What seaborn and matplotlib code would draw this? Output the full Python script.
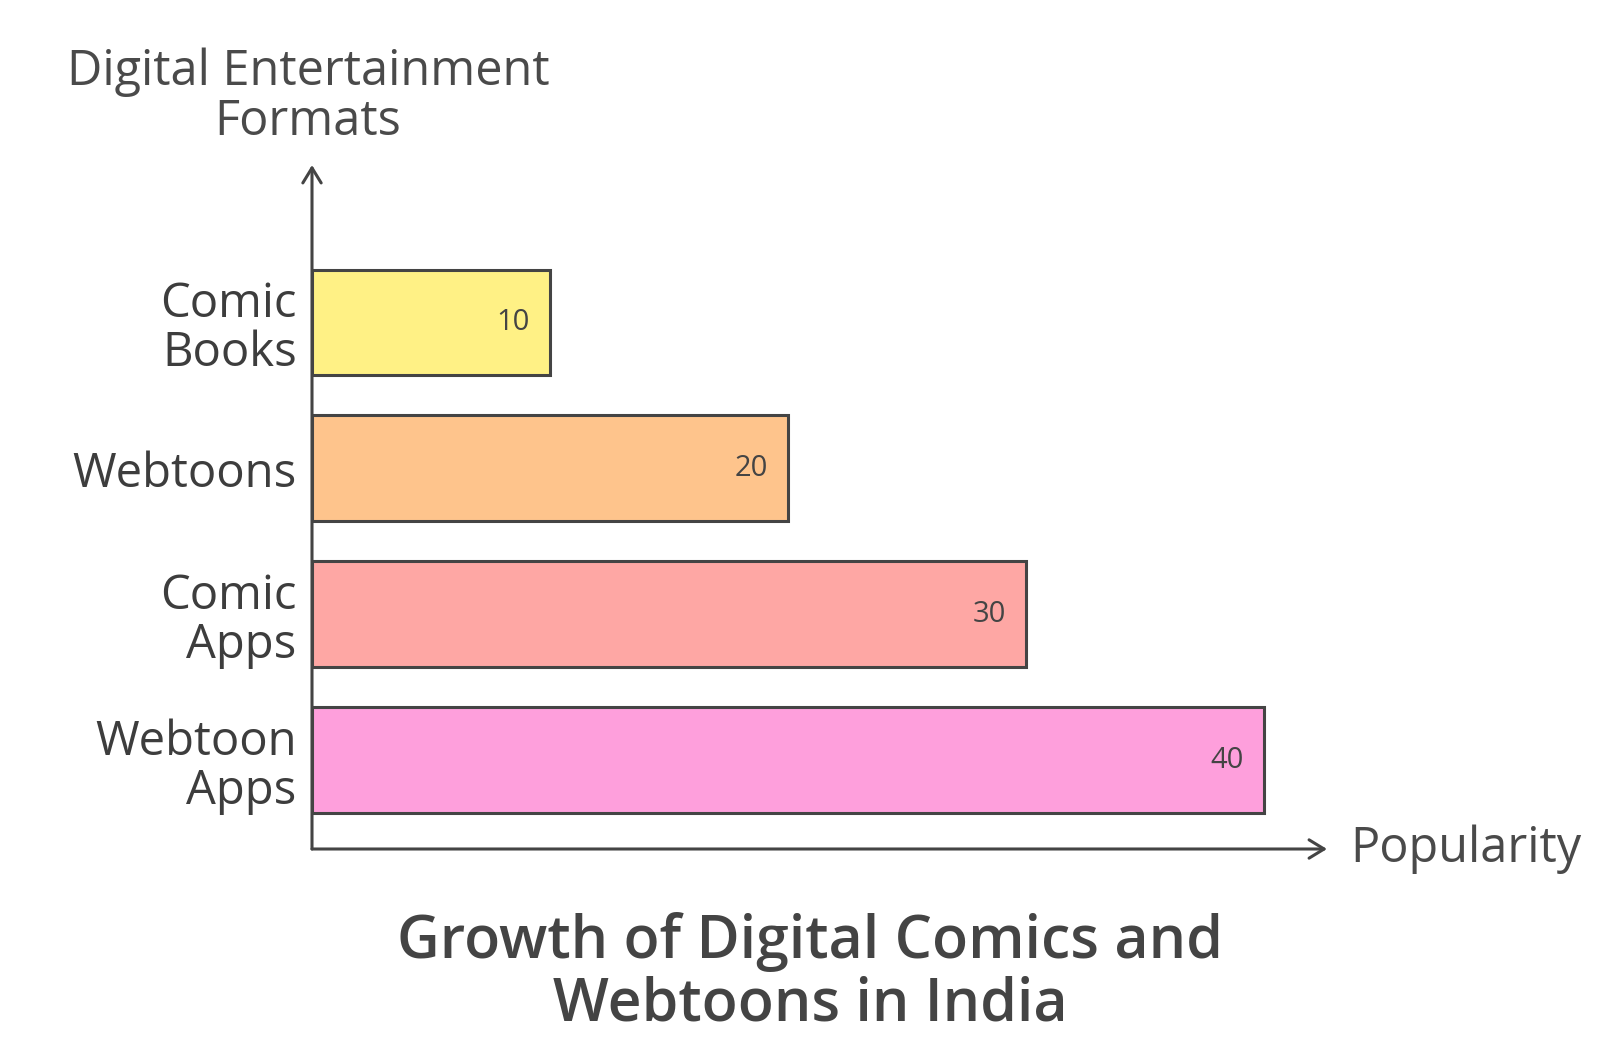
import matplotlib
matplotlib.use("Agg")
import matplotlib.pyplot as plt
import seaborn as sns
import pandas as pd

categories = ["Comic\nBooks", "Webtoons", "Comic\nApps", "Webtoon\nApps"]
popularity = [10, 20, 30, 40]
bar_colors = ["#fff185", "#fec48c", "#fea7a4", "#fe9fdc"]

x_label = "Popularity"
y_label = "Digital Entertainment\nFormats"
title = "Growth of Digital Comics and\nWebtoons in India"

sns.set_theme(style="white")
plt.rcParams["font.family"] = ["Open Sans", "DejaVu Sans"]

ink = "#444444"
W, H = 1600, 1062
fig = plt.figure(figsize=(W / 100, H / 100), dpi=100)
# axes from the y-axis line (x=312px) to arrow tip, top arrow tip to x-axis line
left, right, top, bottom = 312, 1327, 165, 849
ax = fig.add_axes([left / W, 1 - bottom / H, (right - left) / W, (bottom - top) / H])

df = pd.DataFrame({"cat": categories, "val": popularity})
sns.barplot(data=df, x="val", y="cat", hue="cat", palette=bar_colors, orient="h",
            width=0.725, saturation=1, edgecolor=ink, linewidth=2.2, legend=False, ax=ax)

ax.set_xlim(0, 42.65)
ax.set_ylim(3.61, -1.08)
for s in ax.spines.values():
    s.set_visible(False)
ax.set_xticks([])
ax.set_xlabel("")
ax.set_ylabel("")
ax.tick_params(axis="y", length=0, pad=11, labelsize=34, labelcolor="#3d3d3d")
for lab in ax.get_yticklabels():
    lab.set_linespacing(1.05)

for i, v in enumerate(popularity):
    ax.text(v - 0.85, i, str(v), ha="right", va="center", fontsize=21, color=ink)

arrow = dict(arrowstyle="->,head_length=0.9,head_width=0.55", color=ink, lw=2.2,
             shrinkA=0, shrinkB=0)
ax.annotate("", xy=(1, 0), xytext=(0, 0), xycoords="axes fraction", arrowprops=arrow)
ax.annotate("", xy=(0, 1), xytext=(0, 0), xycoords="axes fraction", arrowprops=arrow)

fig.text(1350 / W, 1 - 849 / H, x_label, ha="left", va="center", fontsize=35, color="#4a4a4a")
fig.text(308 / W, 1 - 97 / H, y_label, ha="center", va="center", fontsize=35,
         color="#4a4a4a", linespacing=1.02)
fig.text(810 / W, 1 - 973 / H, title, ha="center", va="center", fontsize=42.5,
         fontweight="semibold", color=ink, linespacing=1.08)

fig.savefig("out.png", dpi=100, facecolor="white")
